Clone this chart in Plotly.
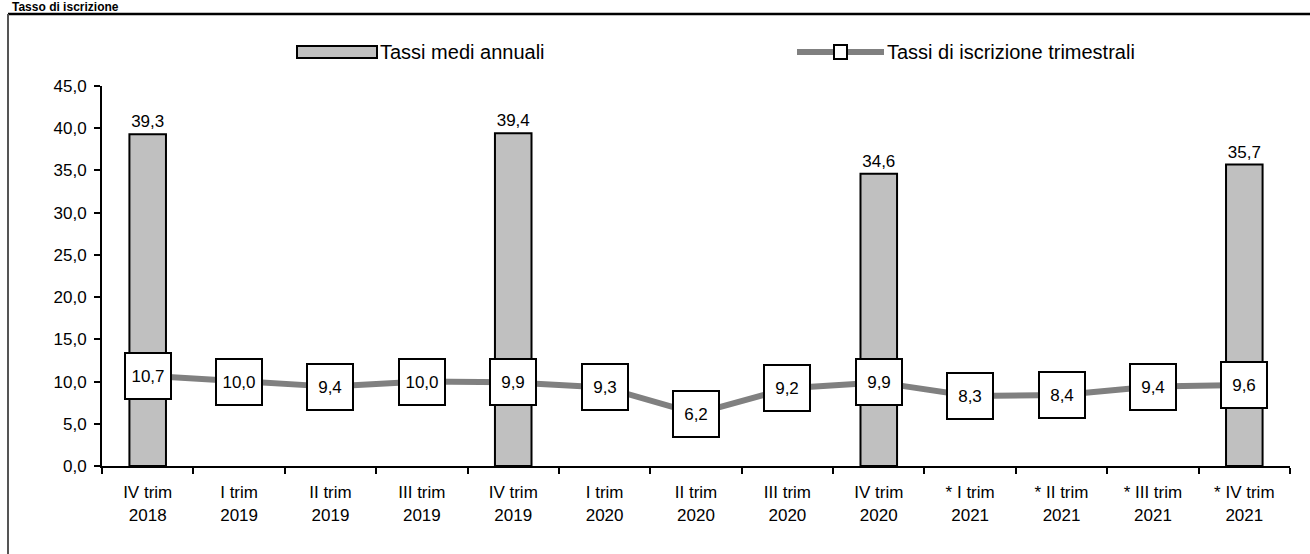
import plotly.graph_objects as go

categories = ["IV trim<br>2018", "I trim<br>2019", "II trim<br>2019", "III trim<br>2019",
              "IV trim<br>2019", "I trim<br>2020", "II trim<br>2020", "III trim<br>2020",
              "IV trim<br>2020", "* I trim<br>2021", "* II trim<br>2021", "* III trim<br>2021",
              "* IV trim<br>2021"]
annual_rates = [39.3, None, None, None, 39.4, None, None, None, 34.6, None, None, None, 35.7]
quarterly_rates = [10.7, 10.0, 9.4, 10.0, 9.9, 9.3, 6.2, 9.2, 9.9, 8.3, 8.4, 9.4, 9.6]
title_text = "Tasso di iscrizione"
bar_name = "Tassi medi annuali"
line_name = "Tassi di iscrizione trimestrali"

W, H = 1310, 554
L, R, T, B = 102, 20, 86, 88
PW, PH = W - L - R, H - T - B


def px(xp):
    return (xp - L) / PW


def py(yp):
    return (H - B - yp) / PH


def fmt(v):
    return f"{v:.1f}".replace(".", ",")


FONT = "Liberation Sans, Arial, sans-serif"

fig = go.Figure()
fig.add_trace(go.Bar(
    x=categories, y=annual_rates, name=bar_name, width=0.4,
    marker=dict(color="#c0c0c0", line=dict(color="black", width=2)),
    text=[fmt(v) if v is not None else "" for v in annual_rates],
    textposition="outside", cliponaxis=False,
    textfont=dict(size=17, color="black", family=FONT),
    showlegend=False,
))
fig.add_trace(go.Scatter(
    x=categories, y=quarterly_rates, name=line_name, mode="lines",
    line=dict(color="#808080", width=6), showlegend=False,
))

annotations = []
for c, v in zip(categories, quarterly_rates):
    annotations.append(dict(
        x=c, y=v, xref="x", yref="y", text=fmt(v), showarrow=False,
        font=dict(size=17, color="black", family=FONT),
        bgcolor="white", bordercolor="black", borderwidth=2, borderpad=0,
        width=44, height=44, xanchor="center", yanchor="middle",
    ))

# title
annotations.append(dict(
    x=px(10), y=py(-2), xref="paper", yref="paper", text="<b>" + title_text + "</b>",
    showarrow=False, xanchor="left", yanchor="top",
    font=dict(size=12, color="black", family=FONT),
))
# legend texts
annotations.append(dict(
    x=px(378), y=py(52), xref="paper", yref="paper", text=bar_name,
    showarrow=False, xanchor="left", yanchor="middle",
    font=dict(size=20, color="black", family=FONT),
))
annotations.append(dict(
    x=px(885), y=py(52), xref="paper", yref="paper", text=line_name,
    showarrow=False, xanchor="left", yanchor="middle",
    font=dict(size=20, color="black", family=FONT),
))

shapes = [
    # outer frame
    dict(type="line", xref="paper", yref="paper", x0=px(8), x1=px(1320), y0=py(14), y1=py(14),
         line=dict(color="black", width=2.5)),
    dict(type="line", xref="paper", yref="paper", x0=px(8), x1=px(8), y0=py(14), y1=py(570),
         line=dict(color="#555555", width=2)),
    # legend: bar symbol
    dict(type="rect", xref="paper", yref="paper", x0=px(297), x1=px(377), y0=py(46), y1=py(58),
         fillcolor="#c0c0c0", line=dict(color="black", width=2)),
    # legend: line symbol
    dict(type="line", xref="paper", yref="paper", x0=px(797), x1=px(884), y0=py(52), y1=py(52),
         line=dict(color="#808080", width=6)),
    dict(type="rect", xref="paper", yref="paper", x0=px(834), x1=px(847), y0=py(45), y1=py(59),
         fillcolor="white", line=dict(color="black", width=2)),
]

fig.update_layout(
    width=W, height=H,
    margin=dict(l=L, r=R, t=T, b=B),
    plot_bgcolor="white", paper_bgcolor="white",
    font=dict(family=FONT, size=17, color="black"),
    separators=",.",
    showlegend=False,
    annotations=annotations,
    shapes=shapes,
    bargap=0.6,
)
fig.update_xaxes(
    type="category", range=[-0.5, 12.5], tickson="boundaries",
    ticks="outside", ticklen=6, tickwidth=2, tickcolor="black",
    showline=True, linecolor="black", linewidth=2,
    showgrid=False, zeroline=False,
    tickfont=dict(size=17, family=FONT, color="black"),
    ticklabelstandoff=10,
)
fig.update_yaxes(
    range=[0, 45], dtick=5, tick0=0, tickformat=".1f",
    ticks="outside", ticklen=6, tickwidth=2, tickcolor="black",
    showline=True, linecolor="black", linewidth=2,
    showgrid=False, zeroline=False,
    tickfont=dict(size=17, family=FONT, color="black"),
    ticklabelstandoff=4,
)

fig.write_html("out.html", config={"displayModeBar": False},
               post_script="document.body.style.margin='0';")
